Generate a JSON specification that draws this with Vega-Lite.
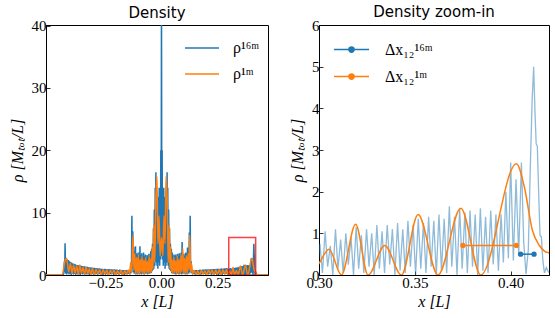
{
"$schema":"https://vega.github.io/schema/vega-lite/v6.json",
"background":"white",
"padding":{"left":8,"top":4,"right":0,"bottom":0},
"config":{
"view":{"stroke":"black","strokeWidth":1},
"axis":{"domainColor":"black","domainWidth":1,"tickColor":"black","tickSize":-4,"tickWidth":0.8,"labelFont":"Liberation Serif","labelFontSize":15,"labelColor":"black","labelPadding":4,"labelFlush":false,"labelOverlap":false,"titleFont":"Liberation Serif","titleFontSize":16,"titleFontWeight":"normal","titleFontStyle":"italic","titleColor":"black","grid":false},
"legend":{"orient":"none","padding":0,"labelFont":"Liberation Serif","labelFontSize":16,"labelColor":"black","symbolStrokeWidth":1.5,"title":null},
"title":{"font":"DejaVu Sans","fontSize":15,"fontWeight":"normal","color":"black","offset":-2},
"concat":{"spacing":20}
},
"resolve":{"scale":{"color":"independent"},"legend":{"color":"independent"}},
"datasets":{
"b16":[
{"x":-0.515,"y":0},{"x":-0.438,"y":0},
{"x":-0.436,"y":0.3},{"x":-0.433,"y":2.2},{"x":-0.4315,"y":0.5},{"x":-0.43,"y":5.1},{"x":-0.4275,"y":0.2},{"x":-0.425,"y":2.7},{"x":-0.4225,"y":0.1},{"x":-0.42,"y":2.5},{"x":-0.4175,"y":0.3},{"x":-0.415,"y":2.4},{"x":-0.4125,"y":0.1},{"x":-0.41,"y":2.2},{"x":-0.4075,"y":0.2},{"x":-0.405,"y":2.1},{"x":-0.4025,"y":0},{"x":-0.4,"y":1.95},{"x":-0.3975,"y":0.2},{"x":-0.395,"y":1.85},{"x":-0.3925,"y":0.1},{"x":-0.39,"y":1.8},{"x":-0.3875,"y":0.2},{"x":-0.385,"y":1.7},{"x":-0.3825,"y":0},{"x":-0.38,"y":1.65},{"x":-0.3775,"y":0.2},{"x":-0.375,"y":1.6},{"x":-0.3725,"y":0.1},{"x":-0.37,"y":1.55},{"x":-0.3675,"y":0.2},{"x":-0.365,"y":1.5},{"x":-0.3625,"y":0},{"x":-0.36,"y":1.5},{"x":-0.3575,"y":0.2},{"x":-0.355,"y":1.45},{"x":-0.3525,"y":0.1},{"x":-0.35,"y":1.4},{"x":-0.3475,"y":0.2},{"x":-0.345,"y":1.4},{"x":-0.3425,"y":0},{"x":-0.34,"y":1.35},{"x":-0.3375,"y":0.2},{"x":-0.335,"y":1.3},{"x":-0.3325,"y":0.1},{"x":-0.33,"y":1.3},{"x":-0.3275,"y":0.2},{"x":-0.325,"y":1.25},{"x":-0.3225,"y":0},{"x":-0.32,"y":1.25},{"x":-0.3175,"y":0.2},{"x":-0.315,"y":1.2},{"x":-0.3125,"y":0.1},{"x":-0.31,"y":1.2},{"x":-0.3075,"y":0.2},{"x":-0.305,"y":1.15},{"x":-0.3025,"y":0},{"x":-0.3,"y":1.15},
{"x":-0.297,"y":0.1},{"x":-0.294,"y":1.1},{"x":-0.291,"y":0.2},{"x":-0.288,"y":1.1},{"x":-0.285,"y":0},{"x":-0.282,"y":1.05},{"x":-0.279,"y":0.2},{"x":-0.276,"y":1.05},{"x":-0.273,"y":0.1},{"x":-0.27,"y":1.0},{"x":-0.267,"y":0.2},{"x":-0.264,"y":1.0},{"x":-0.261,"y":0},{"x":-0.258,"y":0.95},{"x":-0.255,"y":0.2},{"x":-0.252,"y":1.0},{"x":-0.249,"y":0.1},{"x":-0.246,"y":0.95},{"x":-0.243,"y":0.2},{"x":-0.24,"y":0.9},{"x":-0.237,"y":0},{"x":-0.234,"y":0.95},{"x":-0.231,"y":0.2},{"x":-0.228,"y":0.9},{"x":-0.225,"y":0.1},{"x":-0.222,"y":0.9},{"x":-0.219,"y":0.2},{"x":-0.216,"y":0.85},{"x":-0.213,"y":0},{"x":-0.21,"y":0.9},{"x":-0.207,"y":0.2},{"x":-0.204,"y":0.85},{"x":-0.201,"y":0.1},{"x":-0.198,"y":0.85},{"x":-0.195,"y":0.2},{"x":-0.192,"y":0.8},{"x":-0.189,"y":0},{"x":-0.186,"y":0.85},{"x":-0.183,"y":0.2},{"x":-0.18,"y":0.8},{"x":-0.177,"y":0.1},{"x":-0.174,"y":0.8},{"x":-0.171,"y":0.2},{"x":-0.168,"y":0.8},{"x":-0.165,"y":0},{"x":-0.162,"y":0.75},{"x":-0.159,"y":0.2},{"x":-0.156,"y":0.8},{"x":-0.153,"y":0.1},{"x":-0.15,"y":0.75},{"x":-0.147,"y":0.2},{"x":-0.144,"y":0.8},{"x":-0.141,"y":0.1},{"x":-0.138,"y":0.9},
{"x":-0.136,"y":2.0},{"x":-0.134,"y":0.3},{"x":-0.132,"y":9.5},{"x":-0.13,"y":1.0},{"x":-0.128,"y":7.0},{"x":-0.126,"y":0.5},{"x":-0.124,"y":4.5},{"x":-0.122,"y":0.2},{"x":-0.12,"y":3.8},{"x":-0.118,"y":0.4},{"x":-0.116,"y":4.6},{"x":-0.114,"y":0.1},{"x":-0.112,"y":3.5},{"x":-0.11,"y":0.3},{"x":-0.108,"y":3.2},{"x":-0.106,"y":0.1},{"x":-0.104,"y":3.6},{"x":-0.102,"y":0.4},{"x":-0.1,"y":3.0},{"x":-0.098,"y":0.2},{"x":-0.096,"y":4.6},{"x":-0.094,"y":0.3},{"x":-0.092,"y":3.2},{"x":-0.09,"y":0.1},{"x":-0.088,"y":3.5},{"x":-0.086,"y":0.4},{"x":-0.084,"y":3.0},{"x":-0.082,"y":0.2},{"x":-0.08,"y":3.6},{"x":-0.078,"y":0.1},{"x":-0.076,"y":3.0},{"x":-0.074,"y":0.3},{"x":-0.072,"y":3.3},{"x":-0.07,"y":0.2},{"x":-0.068,"y":2.8},{"x":-0.066,"y":0.4},{"x":-0.064,"y":3.2},{"x":-0.062,"y":0.1},{"x":-0.06,"y":3.0},{"x":-0.058,"y":0.3},{"x":-0.056,"y":3.4},{"x":-0.054,"y":0.2},{"x":-0.052,"y":3.0},{"x":-0.05,"y":0.4},{"x":-0.048,"y":3.8},{"x":-0.046,"y":0.3},{"x":-0.044,"y":4.2},{"x":-0.042,"y":0.6},{"x":-0.04,"y":5.0},{"x":-0.038,"y":0.8},{"x":-0.036,"y":7.5},{"x":-0.034,"y":1.0},{"x":-0.032,"y":10.5},{"x":-0.03,"y":1.5},{"x":-0.028,"y":14.0},{"x":-0.0265,"y":3.0},{"x":-0.025,"y":16.5},{"x":-0.0235,"y":2.0},{"x":-0.022,"y":12.0},{"x":-0.02,"y":1.5},{"x":-0.018,"y":9.0},{"x":-0.016,"y":1.0},{"x":-0.014,"y":12.5},{"x":-0.012,"y":2.0},{"x":-0.01,"y":14.0},{"x":-0.008,"y":1.5},{"x":-0.006,"y":11.0},{"x":-0.0045,"y":2.5},{"x":-0.003,"y":20.0},{"x":-0.0015,"y":3.0},{"x":0.0,"y":45.0},{"x":0.0015,"y":3.0},{"x":0.003,"y":20.0},{"x":0.0045,"y":2.5},{"x":0.006,"y":11.0},{"x":0.008,"y":1.5},{"x":0.01,"y":14.0},{"x":0.012,"y":2.0},{"x":0.014,"y":12.5},{"x":0.016,"y":1.0},{"x":0.018,"y":9.0},{"x":0.02,"y":1.5},{"x":0.022,"y":12.0},{"x":0.0235,"y":2.0},{"x":0.025,"y":16.5},{"x":0.0265,"y":3.0},{"x":0.028,"y":14.0},{"x":0.03,"y":1.5},{"x":0.032,"y":10.5},{"x":0.034,"y":1.0},{"x":0.036,"y":7.5},{"x":0.038,"y":0.8},{"x":0.04,"y":5.0},{"x":0.042,"y":0.6},{"x":0.044,"y":4.2},{"x":0.046,"y":0.3},{"x":0.048,"y":3.6},{"x":0.05,"y":0.4},{"x":0.052,"y":3.1},{"x":0.054,"y":0.2},{"x":0.056,"y":3.3},{"x":0.058,"y":0.3},{"x":0.06,"y":3.0},{"x":0.062,"y":0.1},{"x":0.064,"y":3.3},{"x":0.066,"y":0.4},{"x":0.068,"y":2.9},{"x":0.07,"y":0.2},{"x":0.072,"y":3.4},{"x":0.074,"y":0.3},{"x":0.076,"y":3.1},{"x":0.078,"y":0.1},{"x":0.08,"y":3.5},{"x":0.082,"y":0.2},{"x":0.084,"y":3.1},{"x":0.086,"y":0.4},{"x":0.088,"y":3.6},{"x":0.09,"y":0.1},{"x":0.092,"y":5.3},{"x":0.094,"y":0.3},{"x":0.096,"y":3.2},{"x":0.098,"y":0.2},{"x":0.1,"y":3.4},{"x":0.102,"y":0.4},{"x":0.104,"y":3.0},{"x":0.106,"y":0.1},{"x":0.108,"y":3.6},{"x":0.11,"y":0.3},{"x":0.112,"y":3.4},{"x":0.114,"y":0.1},{"x":0.116,"y":4.4},{"x":0.118,"y":0.4},{"x":0.12,"y":3.9},{"x":0.122,"y":0.2},{"x":0.124,"y":6.8},{"x":0.126,"y":0.5},{"x":0.128,"y":9.5},{"x":0.13,"y":1.0},{"x":0.132,"y":2.2},{"x":0.134,"y":0.3},{"x":0.136,"y":0.9},
{"x":0.139,"y":0.1},{"x":0.142,"y":0.8},{"x":0.145,"y":0.2},{"x":0.148,"y":0.75},{"x":0.151,"y":0},{"x":0.154,"y":0.8},{"x":0.157,"y":0.2},{"x":0.16,"y":0.8},{"x":0.163,"y":0.1},{"x":0.166,"y":0.8},{"x":0.169,"y":0.2},{"x":0.172,"y":0.85},{"x":0.175,"y":0},{"x":0.178,"y":0.8},{"x":0.181,"y":0.2},{"x":0.184,"y":0.85},{"x":0.187,"y":0.1},{"x":0.19,"y":0.85},{"x":0.193,"y":0.2},{"x":0.196,"y":0.9},{"x":0.199,"y":0},{"x":0.202,"y":0.85},{"x":0.205,"y":0.2},{"x":0.208,"y":0.9},{"x":0.211,"y":0.1},{"x":0.214,"y":0.9},{"x":0.217,"y":0.2},{"x":0.22,"y":0.9},{"x":0.223,"y":0},{"x":0.226,"y":0.95},{"x":0.229,"y":0.2},{"x":0.232,"y":0.95},{"x":0.235,"y":0.1},{"x":0.238,"y":0.95},{"x":0.241,"y":0.2},{"x":0.244,"y":1.0},{"x":0.247,"y":0},{"x":0.25,"y":1.0},{"x":0.253,"y":0.2},{"x":0.256,"y":1.0},{"x":0.259,"y":0.1},{"x":0.262,"y":1.0},{"x":0.265,"y":0.2},{"x":0.268,"y":1.05},{"x":0.271,"y":0},{"x":0.274,"y":1.0},{"x":0.277,"y":0.2},{"x":0.28,"y":1.05},{"x":0.283,"y":0.1},{"x":0.286,"y":1.05},{"x":0.289,"y":0.2},{"x":0.292,"y":1.1},{"x":0.295,"y":0},{"x":0.298,"y":0.9},
{"x":0.2991,"y":0.1},{"x":0.3005,"y":0.75},{"x":0.3018,"y":0.05},{"x":0.3032,"y":1.05},{"x":0.3045,"y":0.2},{"x":0.3059,"y":0.7},{"x":0.3072,"y":0},{"x":0.3086,"y":1.1},{"x":0.3099,"y":0.15},{"x":0.3113,"y":0.85},{"x":0.3126,"y":0.05},{"x":0.314,"y":1.0},{"x":0.3153,"y":0.25},{"x":0.3167,"y":0.9},{"x":0.318,"y":0},{"x":0.3194,"y":1.15},{"x":0.3207,"y":0.15},{"x":0.3221,"y":0.95},{"x":0.3234,"y":0.05},{"x":0.3248,"y":1.1},{"x":0.3261,"y":0.2},{"x":0.3275,"y":1.0},{"x":0.3288,"y":0},{"x":0.3302,"y":1.2},{"x":0.3315,"y":0.15},{"x":0.3329,"y":1.05},{"x":0.3342,"y":0.05},{"x":0.3356,"y":1.2},{"x":0.3369,"y":0.25},{"x":0.3383,"y":1.1},{"x":0.3396,"y":0},{"x":0.341,"y":1.25},{"x":0.3423,"y":0.1},{"x":0.3437,"y":1.1},{"x":0.345,"y":0.05},{"x":0.3464,"y":1.3},{"x":0.3477,"y":0.2},{"x":0.3491,"y":1.2},{"x":0.3504,"y":0},{"x":0.3518,"y":1.35},{"x":0.3531,"y":0.15},{"x":0.3545,"y":1.25},{"x":0.3558,"y":0.05},{"x":0.3572,"y":1.4},{"x":0.3585,"y":0.2},{"x":0.3599,"y":1.3},{"x":0.3612,"y":0},{"x":0.3626,"y":1.45},{"x":0.3639,"y":0.1},{"x":0.3653,"y":1.35},{"x":0.3666,"y":0.05},{"x":0.368,"y":1.65},{"x":0.3693,"y":0.2},{"x":0.3707,"y":1.4},{"x":0.372,"y":0},{"x":0.3734,"y":1.6},{"x":0.3747,"y":0.15},{"x":0.3761,"y":1.5},{"x":0.3774,"y":0.05},{"x":0.3788,"y":1.55},{"x":0.3801,"y":0.2},{"x":0.3815,"y":1.45},{"x":0.3828,"y":0},{"x":0.3842,"y":1.6},{"x":0.3855,"y":0.1},{"x":0.3869,"y":1.4},{"x":0.3882,"y":0.05},{"x":0.3896,"y":1.55},{"x":0.3909,"y":0.25},{"x":0.3923,"y":1.45},{"x":0.3936,"y":0.1},{"x":0.395,"y":1.45},{"x":0.3962,"y":0.3},{"x":0.3975,"y":2.0},{"x":0.3988,"y":0.4},{"x":0.4,"y":2.7},{"x":0.4014,"y":0.35},{"x":0.4028,"y":2.3},{"x":0.4042,"y":0.5},{"x":0.4056,"y":2.7},{"x":0.4068,"y":0.8},{"x":0.408,"y":0.02},{"x":0.4092,"y":0.6},{"x":0.4102,"y":2.5},{"x":0.4112,"y":4.2},{"x":0.412,"y":5.0},{"x":0.4127,"y":3.9},{"x":0.4133,"y":3.15},{"x":0.4139,"y":3.1},{"x":0.4146,"y":2.0},{"x":0.4153,"y":0.95},{"x":0.416,"y":0.92},{"x":0.4168,"y":0.35},{"x":0.4176,"y":0.05},{"x":0.4186,"y":0.18},{"x":0.4196,"y":0.08},{"x":0.4206,"y":0.05},{"x":0.423,"y":0},{"x":0.475,"y":0}
],
"o1":[
{"x":-0.515,"y":0},{"x":-0.445,"y":0},{"x":-0.44,"y":0.3},{"x":-0.435,"y":1.4},{"x":-0.43,"y":2.3},{"x":-0.423,"y":2.7},{"x":-0.414,"y":0.5},{"x":-0.406,"y":1.9},{"x":-0.399,"y":0.2},{"x":-0.392,"y":1.6},{"x":-0.385,"y":0.3},{"x":-0.378,"y":1.5},{"x":-0.371,"y":0.1},{"x":-0.364,"y":1.6},{"x":-0.357,"y":0.3},{"x":-0.35,"y":1.2},{"x":-0.343,"y":0.1},{"x":-0.336,"y":1.3},{"x":-0.329,"y":0.2},{"x":-0.322,"y":1.0},{"x":-0.315,"y":0.1},{"x":-0.308,"y":1.1},{"x":-0.3,"y":0},{"x":-0.292,"y":0.95},{"x":-0.284,"y":0.2},{"x":-0.276,"y":0.85},{"x":-0.268,"y":0},{"x":-0.26,"y":0.9},{"x":-0.252,"y":0.15},{"x":-0.244,"y":0.8},{"x":-0.236,"y":0},{"x":-0.228,"y":0.75},{"x":-0.22,"y":0.2},{"x":-0.212,"y":0.8},{"x":-0.204,"y":0},{"x":-0.196,"y":0.7},{"x":-0.188,"y":0.1},{"x":-0.18,"y":0.75},{"x":-0.172,"y":0},{"x":-0.164,"y":0.7},{"x":-0.156,"y":0.15},{"x":-0.148,"y":0.8},{"x":-0.142,"y":0.2},{"x":-0.137,"y":2.0},{"x":-0.133,"y":0.4},{"x":-0.127,"y":6.4},{"x":-0.123,"y":0.8},{"x":-0.119,"y":3.4},{"x":-0.115,"y":0.2},{"x":-0.111,"y":2.8},{"x":-0.107,"y":0.3},{"x":-0.103,"y":3.2},{"x":-0.099,"y":0.1},{"x":-0.095,"y":2.5},{"x":-0.091,"y":0.4},{"x":-0.087,"y":3.0},{"x":-0.083,"y":0.2},{"x":-0.079,"y":2.4},{"x":-0.075,"y":0.1},{"x":-0.071,"y":2.8},{"x":-0.067,"y":0.5},{"x":-0.063,"y":2.2},{"x":-0.059,"y":0.2},{"x":-0.055,"y":3.0},{"x":-0.051,"y":0.3},{"x":-0.047,"y":2.6},{"x":-0.044,"y":0.5},{"x":-0.041,"y":4.5},{"x":-0.038,"y":1.0},{"x":-0.034,"y":8.0},{"x":-0.03,"y":2.0},{"x":-0.026,"y":11.0},{"x":-0.02,"y":15.8},{"x":-0.016,"y":5.0},{"x":-0.011,"y":9.5},{"x":-0.006,"y":3.0},{"x":0.0,"y":6.0},{"x":0.006,"y":3.0},{"x":0.011,"y":9.5},{"x":0.016,"y":5.0},{"x":0.02,"y":15.8},{"x":0.026,"y":11.0},{"x":0.03,"y":2.0},{"x":0.034,"y":8.0},{"x":0.038,"y":1.0},{"x":0.041,"y":4.5},{"x":0.044,"y":0.5},{"x":0.047,"y":2.4},{"x":0.051,"y":0.2},{"x":0.055,"y":2.9},{"x":0.059,"y":0.4},{"x":0.063,"y":2.3},{"x":0.067,"y":0.1},{"x":0.071,"y":3.0},{"x":0.075,"y":0.3},{"x":0.079,"y":2.5},{"x":0.083,"y":0.2},{"x":0.087,"y":3.2},{"x":0.091,"y":0.5},{"x":0.095,"y":4.3},{"x":0.099,"y":0.2},{"x":0.103,"y":2.7},{"x":0.107,"y":0.3},{"x":0.111,"y":3.1},{"x":0.115,"y":0.2},{"x":0.119,"y":3.5},{"x":0.123,"y":0.8},{"x":0.126,"y":6.4},{"x":0.13,"y":0.4},{"x":0.134,"y":1.8},{"x":0.139,"y":0.2},{"x":0.146,"y":0.75},{"x":0.154,"y":0.1},{"x":0.162,"y":0.7},{"x":0.17,"y":0},{"x":0.178,"y":0.75},{"x":0.186,"y":0.15},{"x":0.194,"y":0.7},{"x":0.202,"y":0},{"x":0.21,"y":0.8},{"x":0.218,"y":0.2},{"x":0.226,"y":0.8},{"x":0.234,"y":0},{"x":0.242,"y":0.85},{"x":0.25,"y":0.1},{"x":0.258,"y":0.9},{"x":0.266,"y":0},{"x":0.274,"y":0.85},{"x":0.282,"y":0.2},{"x":0.29,"y":0.9},{"x":0.296,"y":0.05},{"x":0.3,"y":0.28},{"x":0.3052,"y":0.62},{"x":0.3117,"y":0},{"x":0.3191,"y":1.22},{"x":0.3256,"y":0},{"x":0.3343,"y":0.71},{"x":0.343,"y":0},{"x":0.3517,"y":1.45},{"x":0.3621,"y":0},{"x":0.374,"y":1.6},{"x":0.3844,"y":0},{"x":0.403,"y":2.67},{"x":0.4072,"y":2.1},{"x":0.4113,"y":1.08},{"x":0.4148,"y":0.72},{"x":0.418,"y":0.56},{"x":0.42,"y":0.53},{"x":0.423,"y":0.3},{"x":0.427,"y":0.05},{"x":0.43,"y":0},{"x":0.475,"y":0}
],
"box":[{"x1":0.3,"x2":0.42,"y1":0,"y2":6}],
"dx":[{"s":"Δx₁₂¹⁶ᵐ","x":0.4052,"y":0.5},{"s":"Δx₁₂¹⁶ᵐ","x":0.4122,"y":0.5},{"s":"Δx₁₂¹ᵐ","x":0.3751,"y":0.71},{"s":"Δx₁₂¹ᵐ","x":0.403,"y":0.71}]
},
"hconcat":[
{"width":222,"height":250,"title":"Density",
"layer":[
{"data":{"name":"b16"},"mark":{"type":"line","clip":true,"strokeWidth":1.5},
"encoding":{
"x":{"field":"x","type":"quantitative","scale":{"domain":[-0.515,0.475],"nice":false,"zero":false},"axis":{"values":[-0.25,0,0.25],"format":".2f","title":"x [L]","titlePadding":3}},
"y":{"field":"y","type":"quantitative","scale":{"domain":[0,40.1],"nice":false},"axis":{"values":[0,10,20,30,40],"title":"ρ [Mₜₒₜ/L]","titlePadding":6}},
"color":{"datum":"ρ¹⁶ᵐ","type":"nominal","scale":{"domain":["ρ¹⁶ᵐ","ρ¹ᵐ"],"range":["#1f77b4","#ff7f0e"]},"legend":{"legendX":138,"legendY":5,"symbolType":"stroke","symbolSize":1156,"labelOffset":13,"rowPadding":-6}}}},
{"data":{"name":"o1"},"mark":{"type":"line","clip":true,"strokeWidth":1.5,"interpolate":"monotone"},
"encoding":{
"x":{"field":"x","type":"quantitative"},
"y":{"field":"y","type":"quantitative"},
"color":{"datum":"ρ¹ᵐ","type":"nominal"}}},
{"data":{"name":"box"},"mark":{"type":"rect","filled":false,"stroke":"#ff0000","strokeWidth":1.5,"strokeOpacity":0.75,"clip":true},
"encoding":{"x":{"field":"x1","type":"quantitative"},"x2":{"field":"x2"},"y":{"field":"y1","type":"quantitative"},"y2":{"field":"y2"}}}
]},
{"width":230,"height":250,"title":"Density zoom-in",
"layer":[
{"data":{"name":"b16"},"mark":{"type":"line","clip":true,"strokeWidth":1.3,"color":"#1f77b4","opacity":0.5},
"encoding":{
"x":{"field":"x","type":"quantitative","scale":{"domain":[0.3,0.42],"nice":false,"zero":false},"axis":{"values":[0.3,0.35,0.4],"format":".2f","title":"x [L]","titlePadding":3}},
"y":{"field":"y","type":"quantitative","scale":{"domain":[0,6],"nice":false},"axis":{"values":[0,1,2,3,4,5,6],"title":"ρ [Mₜₒₜ/L]","titlePadding":6}}}},
{"data":{"name":"o1"},"mark":{"type":"line","clip":true,"strokeWidth":1.5,"color":"#ff7f0e","interpolate":"monotone"},
"encoding":{"x":{"field":"x","type":"quantitative"},"y":{"field":"y","type":"quantitative"}}},
{"data":{"name":"dx"},"mark":{"type":"line","strokeWidth":1.5,"point":{"filled":true,"size":28}},
"encoding":{"x":{"field":"x","type":"quantitative"},"y":{"field":"y","type":"quantitative"},
"color":{"field":"s","type":"nominal","scale":{"domain":["Δx₁₂¹⁶ᵐ","Δx₁₂¹ᵐ"],"range":["#1f77b4","#ff7f0e"]},"legend":{"legendX":14,"legendY":6,"symbolType":"M-1,0L1,0M0.15,0A0.15,0.15,0,1,1,-0.15,0A0.15,0.15,0,1,1,0.15,0Z","symbolSize":1225,"labelOffset":15,"rowPadding":-11}}}}
]}
]
}
